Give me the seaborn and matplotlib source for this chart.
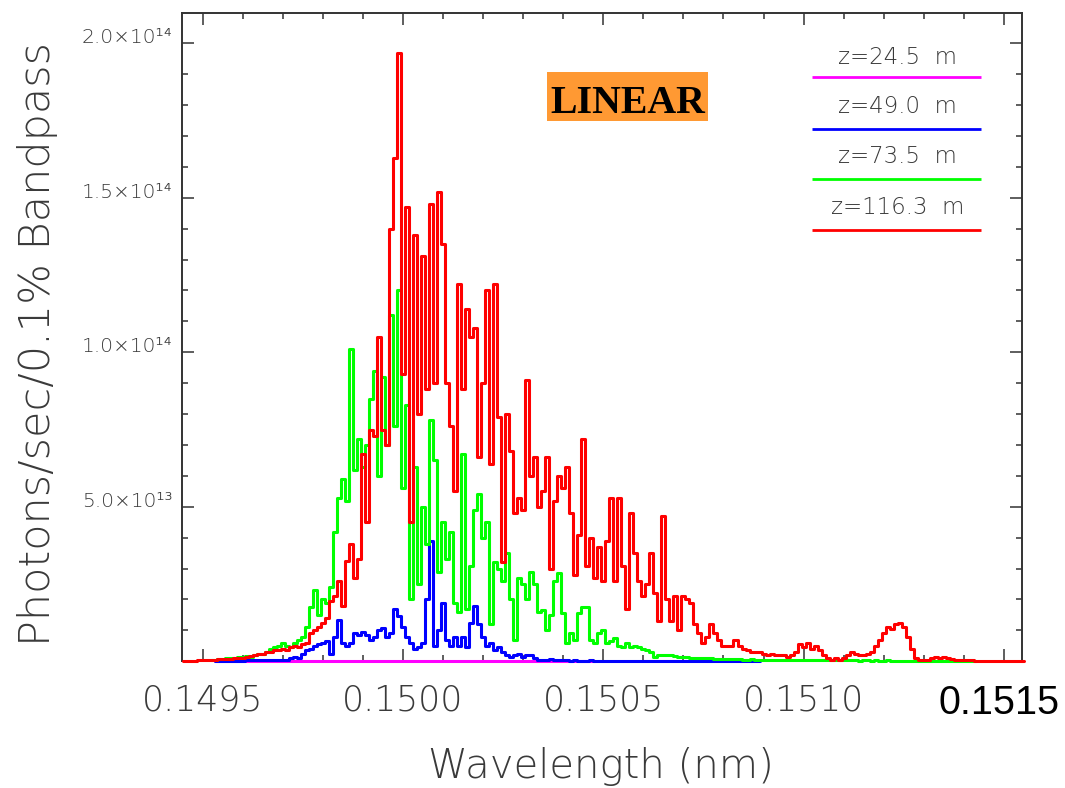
import matplotlib
matplotlib.use("Agg")
import matplotlib.pyplot as plt
import matplotlib.patches as mpatches
import matplotlib.transforms as mtransforms
from matplotlib.ticker import MultipleLocator
import pandas as pd
import seaborn as sns

# ---------------- data (photon values in units of 1e13 photons/sec/0.1% BW) ----------------
UNIT = 1e13

WAVELENGTH_NM = [
    0.14945, 0.14946, 0.14947, 0.14948, 0.14949, 0.14950, 0.14951, 0.14952, 0.14953, 0.14954,
    0.14955, 0.14956, 0.14957, 0.14958, 0.14959, 0.14960, 0.14961, 0.14962, 0.14963, 0.14964,
    0.14965, 0.14966, 0.14967, 0.14968, 0.14969, 0.14970, 0.14971, 0.14972, 0.14973, 0.14974,
    0.14975, 0.14976, 0.14977, 0.14978, 0.14979, 0.14980, 0.14981, 0.14982, 0.14983, 0.14984,
    0.14985, 0.14986, 0.14987, 0.14988, 0.14989, 0.14990, 0.14991, 0.14992, 0.14993, 0.14994,
    0.14995, 0.14996, 0.14997, 0.14998, 0.14999, 0.15000, 0.15001, 0.15002, 0.15003, 0.15004,
    0.15005, 0.15006, 0.15007, 0.15008, 0.15009, 0.15010, 0.15011, 0.15012, 0.15013, 0.15014,
    0.15015, 0.15016, 0.15017, 0.15018, 0.15019, 0.15020, 0.15021, 0.15022, 0.15023, 0.15024,
    0.15025, 0.15026, 0.15027, 0.15028, 0.15029, 0.15030, 0.15031, 0.15032, 0.15033, 0.15034,
    0.15035, 0.15036, 0.15037, 0.15038, 0.15039, 0.15040, 0.15041, 0.15042, 0.15043, 0.15044,
    0.15045, 0.15046, 0.15047, 0.15048, 0.15049, 0.15050, 0.15051, 0.15052, 0.15053, 0.15054,
    0.15055, 0.15056, 0.15057, 0.15058, 0.15059, 0.15060, 0.15061, 0.15062, 0.15063, 0.15064,
    0.15065, 0.15066, 0.15067, 0.15068, 0.15069, 0.15070, 0.15071, 0.15072, 0.15073, 0.15074,
    0.15075, 0.15076, 0.15077, 0.15078, 0.15079, 0.15080, 0.15081, 0.15082, 0.15083, 0.15084,
    0.15085, 0.15086, 0.15087, 0.15088, 0.15089, 0.15090, 0.15091, 0.15092, 0.15093, 0.15094,
    0.15095, 0.15096, 0.15097, 0.15098, 0.15099, 0.15100, 0.15101, 0.15102, 0.15103, 0.15104,
    0.15105, 0.15106, 0.15107, 0.15108, 0.15109, 0.15110, 0.15111, 0.15112, 0.15113, 0.15114,
    0.15115, 0.15116, 0.15117, 0.15118, 0.15119, 0.15120, 0.15121, 0.15122, 0.15123, 0.15124,
    0.15125, 0.15126, 0.15127, 0.15128, 0.15129, 0.15130, 0.15131, 0.15132, 0.15133, 0.15134,
    0.15135, 0.15136, 0.15137, 0.15138, 0.15139, 0.15140, 0.15141, 0.15142, 0.15143, 0.15144,
    0.15145, 0.15146, 0.15147, 0.15148, 0.15149, 0.15150, 0.15151, 0.15152, 0.15153, 0.15154,
    0.15155,
]

# z = 116.3 m (full wavelength grid)
PHOTONS_Z116_3 = [
    0.00, 0.00, 0.02, 0.02, 0.03, 0.03, 0.04, 0.05, 0.05, 0.06,
    0.07, 0.08, 0.08, 0.10, 0.12, 0.12, 0.15, 0.18, 0.20, 0.22,
    0.25, 0.30, 0.30, 0.35, 0.35, 0.40, 0.35, 0.45, 0.50, 0.45,
    0.55, 0.60, 0.90, 1.00, 1.10, 1.25, 1.40, 1.95, 2.10, 2.60,
    1.80, 3.25, 3.80, 2.70, 3.30, 6.70, 4.50, 7.50, 7.30, 10.5,
    7.50, 7.00, 14.0, 16.3, 19.7, 9.30, 14.7, 4.50, 13.8, 8.00,
    13.1, 8.80, 14.8, 9.00, 15.2, 13.5, 9.00, 7.60, 5.50, 12.2,
    8.80, 11.4, 10.5, 10.8, 6.60, 9.00, 12.0, 6.40, 12.2, 7.90,
    3.20, 8.00, 6.80, 4.80, 5.30, 4.90, 9.10, 6.00, 6.60, 5.00,
    5.50, 6.60, 3.00, 5.20, 6.00, 5.60, 6.30, 4.80, 2.80, 4.10,
    7.20, 3.10, 4.00, 2.70, 3.70, 2.60, 3.90, 5.30, 2.60, 5.30,
    3.10, 1.70, 4.80, 3.50, 2.60, 2.10, 2.50, 3.50, 2.20, 1.30,
    4.70, 2.00, 1.30, 2.10, 1.00, 2.10, 2.00, 1.90, 1.20, 0.90,
    0.60, 0.80, 1.20, 0.90, 0.70, 0.50, 0.50, 0.50, 0.70, 0.50,
    0.40, 0.35, 0.30, 0.30, 0.30, 0.25, 0.20, 0.25, 0.20, 0.20,
    0.20, 0.15, 0.20, 0.30, 0.55, 0.45, 0.60, 0.40, 0.50, 0.35,
    0.20, 0.10, 0.05, 0.10, 0.05, 0.10, 0.20, 0.30, 0.25, 0.20,
    0.20, 0.25, 0.30, 0.50, 0.70, 0.90, 1.10, 1.05, 1.20, 1.25,
    1.10, 0.80, 0.40, 0.10, 0.03, 0.03, 0.05, 0.10, 0.15, 0.12,
    0.15, 0.10, 0.08, 0.05, 0.05, 0.04, 0.04, 0.03, 0.02, 0.02,
    0.01, 0.01, 0.01, 0.00, 0.00, 0.00, 0.00, 0.00, 0.00, 0.00,
    0.00,
]

# z = 73.5 m (grid points 0.14952 .. 0.15143)
WAVELENGTH_Z73_5 = WAVELENGTH_NM[7:199]
PHOTONS_Z73_5 = [
    0.05, 0.05, 0.06,
    0.08, 0.10, 0.10, 0.12, 0.15, 0.15, 0.18, 0.15, 0.20, 0.25,
    0.25, 0.30, 0.40, 0.45, 0.50, 0.60, 0.50, 0.45, 0.60, 0.70,
    0.80, 1.10, 1.75, 2.30, 1.50, 2.00, 1.90, 2.40, 4.20, 5.30,
    5.90, 5.20, 10.1, 6.20, 7.20, 6.30, 7.00, 8.50, 9.40, 6.00,
    9.20, 7.00, 11.2, 7.60, 12.0, 5.60, 8.30, 2.00, 6.30, 2.50,
    5.00, 3.80, 7.80, 6.50, 2.90, 4.50, 3.30, 4.20, 1.90, 1.60,
    6.70, 1.70, 3.10, 4.90, 5.40, 4.00, 4.50, 1.20, 3.20, 3.00,
    2.60, 3.50, 2.00, 0.70, 2.70, 2.50, 2.00, 2.90, 2.50, 1.60,
    1.65, 1.00, 1.50, 2.60, 2.85, 1.55, 0.60, 0.90, 0.70, 1.55,
    1.75, 1.75, 0.70, 0.60, 0.90, 1.00, 0.60, 0.65, 0.75, 0.50,
    0.45, 0.60, 0.45, 0.50, 0.45, 0.40, 0.35, 0.30, 0.15, 0.20,
    0.20, 0.20, 0.20, 0.18, 0.15, 0.15, 0.15, 0.12, 0.12, 0.10,
    0.10, 0.10, 0.10, 0.08, 0.08, 0.07, 0.07, 0.06, 0.06, 0.06,
    0.05, 0.05, 0.06, 0.05, 0.05, 0.05, 0.04, 0.05, 0.05, 0.04,
    0.05, 0.04, 0.04, 0.05, 0.04, 0.04, 0.04, 0.03, 0.04, 0.04,
    0.04, 0.03, 0.03, 0.04, 0.03, 0.03, 0.03, 0.03, 0.03, 0.02,
    0.03, 0.03, 0.02, 0.03, 0.02, 0.02, 0.03, 0.02, 0.02, 0.02,
    0.02, 0.02, 0.02, 0.02, 0.01, 0.02, 0.02, 0.01, 0.02, 0.01,
    0.01, 0.01, 0.02, 0.01, 0.01, 0.01, 0.01, 0.01, 0.01,
]

# z = 49.0 m (grid points 0.14953 .. 0.15089)
WAVELENGTH_Z49_0 = WAVELENGTH_NM[8:145]
PHOTONS_Z49_0 = [
    0.00, 0.01,
    0.00, 0.01, 0.01, 0.02, 0.02, 0.02, 0.03, 0.03, 0.03, 0.04,
    0.04, 0.05, 0.05, 0.05, 0.05, 0.05, 0.05, 0.10, 0.15, 0.10,
    0.25, 0.35, 0.40, 0.50, 0.55, 0.60, 0.65, 0.25, 0.80, 1.35,
    0.60, 0.50, 0.60, 0.90, 0.85, 0.95, 0.85, 0.70, 0.80, 1.00,
    1.08, 0.80, 0.90, 1.70, 1.45, 1.10, 0.80, 0.60, 0.40, 0.45,
    0.60, 2.00, 3.90, 0.50, 1.00, 1.90, 0.70, 0.50, 0.80, 0.50,
    0.80, 0.45, 1.25, 1.80, 1.20, 0.80, 0.50, 0.60, 0.35, 0.45,
    0.30, 0.20, 0.15, 0.20, 0.25, 0.15, 0.20, 0.20, 0.10, 0.05,
    0.05, 0.04, 0.08, 0.05, 0.03, 0.03, 0.04, 0.02, 0.03, 0.02,
    0.02, 0.02, 0.03, 0.02, 0.02, 0.02, 0.01, 0.02, 0.02, 0.01,
    0.01, 0.02, 0.01, 0.01, 0.01, 0.01, 0.01, 0.01, 0.01, 0.01,
    0.01, 0.01, 0.01, 0.01, 0.00, 0.01, 0.01, 0.00, 0.01, 0.00,
    0.00, 0.01, 0.00, 0.00, 0.00, 0.01, 0.00, 0.00, 0.00, 0.00,
    0.00, 0.00, 0.00, 0.00, 0.00,
]

# z = 24.5 m (essentially zero)
WAVELENGTH_Z24_5 = [0.14953, 0.14965, 0.14980, 0.14995, 0.15010, 0.15025, 0.15040, 0.15048]
PHOTONS_Z24_5 = [0.00, 0.00, 0.00, 0.01, 0.01, 0.00, 0.00, 0.00]

SERIES_LABELS = ["z=24.5  m", "z=49.0  m", "z=73.5  m", "z=116.3  m"]
SERIES_COLORS = ["#FF00FF", "#0000FF", "#00FF00", "#FF0000"]

XTICK_VALUES = [0.1495, 0.1500, 0.1505, 0.1510, 0.1515]
XTICK_LABELS = ["0.1495", "0.1500", "0.1505", "0.1510", "0.1515"]
YTICK_VALUES = [5e13, 1e14, 1.5e14, 2e14]
YTICK_LABELS = ["5.0×10¹³", "1.0×10¹⁴", "1.5×10¹⁴", "2.0×10¹⁴"]

X_LABEL = "Wavelength (nm)"
Y_LABEL = "Photons/sec/0.1% Bandpass"
BADGE = "LINEAR"

# ---------------- build long table ----------------
frames = []
for lab, wl, ph in [
    (SERIES_LABELS[0], WAVELENGTH_Z24_5, PHOTONS_Z24_5),
    (SERIES_LABELS[1], WAVELENGTH_Z49_0, PHOTONS_Z49_0),
    (SERIES_LABELS[2], WAVELENGTH_Z73_5, PHOTONS_Z73_5),
    (SERIES_LABELS[3], WAVELENGTH_NM, PHOTONS_Z116_3),
]:
    frames.append(pd.DataFrame({"wavelength": wl,
                                "photons": [v * UNIT for v in ph],
                                "series": lab}))
df = pd.concat(frames, ignore_index=True)

# ---------------- style ----------------
sns.set_theme(style="ticks")
plt.rcParams["font.family"] = ["DejaVu Sans"]
TXT = "#3a3a3a"
AX = "#333333"
LIGHT = 200

fig = plt.figure(figsize=(10.65, 7.88), dpi=100)
ax = fig.add_axes([0.17136, 0.16079, 0.78873, 0.82233])

sns.lineplot(data=df, x="wavelength", y="photons", hue="series",
             hue_order=SERIES_LABELS, palette=dict(zip(SERIES_LABELS, SERIES_COLORS)),
             estimator=None, sort=False, legend=False, linewidth=2.2,
             drawstyle="steps-mid", ax=ax)
for ln in ax.lines:
    ln.set_clip_on(False)
    ln.set_zorder(3)

ax.set_xlim(0.1494496, 0.1515464)
ax.set_ylim(0, 2.097e14)
ax.set_xlabel("")
ax.set_ylabel("")

for s in ax.spines.values():
    s.set_color(AX)
    s.set_linewidth(1.4)
    s.set_visible(True)

ax.set_xticks(XTICK_VALUES)
ax.set_xticklabels(XTICK_LABELS)
ax.xaxis.set_minor_locator(MultipleLocator(0.0001))
ax.set_yticks(YTICK_VALUES)
ax.set_yticklabels(YTICK_LABELS)
ax.yaxis.set_minor_locator(MultipleLocator(1e13))

ax.tick_params(which="both", direction="in", top=True, right=True, color=AX, width=1.1)
ax.tick_params(which="major", length=8.6)
ax.tick_params(which="minor", length=4.3)
ax.tick_params(axis="x", which="major", pad=16)
ax.tick_params(axis="y", which="major", pad=7)

for lab in ax.get_xticklabels():
    lab.set_fontsize(25)
    lab.set_color(TXT)
    lab.set_fontweight(LIGHT)
last = ax.get_xticklabels()[-1]
last.set_fontfamily(["Liberation Sans", "DejaVu Sans"])
last.set_fontsize(28.5)
last.set_color("black")
last.set_fontweight("normal")
last.set_transform(last.get_transform() +
                   mtransforms.ScaledTranslation(-5 / 100, 0, fig.dpi_scale_trans))

for lab in ax.get_yticklabels():
    lab.set_fontsize(14.5)
    lab.set_color(TXT)
    lab.set_fontweight(LIGHT)
    lab.set_verticalalignment("baseline")

# axis titles
fig.text(601 / 1065, 1 - 767 / 788, X_LABEL, ha="center", va="center",
         fontsize=29, color=TXT, fontweight=LIGHT)
fig.text(38 / 1065, 1 - 344 / 788, Y_LABEL, ha="center", va="center", rotation=90,
         fontsize=31, color=TXT, fontweight=LIGHT)

# custom legend: label above a coloured line segment
text_y = [0.9212, 0.8467, 0.7694, 0.6907]
line_y = [0.9019, 0.8213, 0.7441, 0.6649]
for lab, col, ty, ly in zip(SERIES_LABELS, SERIES_COLORS, text_y, line_y):
    ax.text(0.851, ty, lab, transform=ax.transAxes, ha="center", va="baseline",
            fontsize=16.5, color=TXT, fontweight=LIGHT)
    ax.plot([0.7493, 0.9511], [ly, ly], transform=ax.transAxes, color=col,
            linewidth=2.0, solid_capstyle="butt")

# LINEAR badge
ax.add_patch(mpatches.Rectangle((0.4339, 0.8332), 0.1919, 0.0757, transform=ax.transAxes,
                                facecolor="#FF9933", edgecolor="none", zorder=4))
ax.text(0.5298, 0.8466, BADGE, transform=ax.transAxes, ha="center", va="baseline",
        fontsize=28.7, fontweight="bold", family=["Liberation Serif", "DejaVu Serif"],
        color="black", zorder=5)

fig.savefig("out.png", dpi=100)
